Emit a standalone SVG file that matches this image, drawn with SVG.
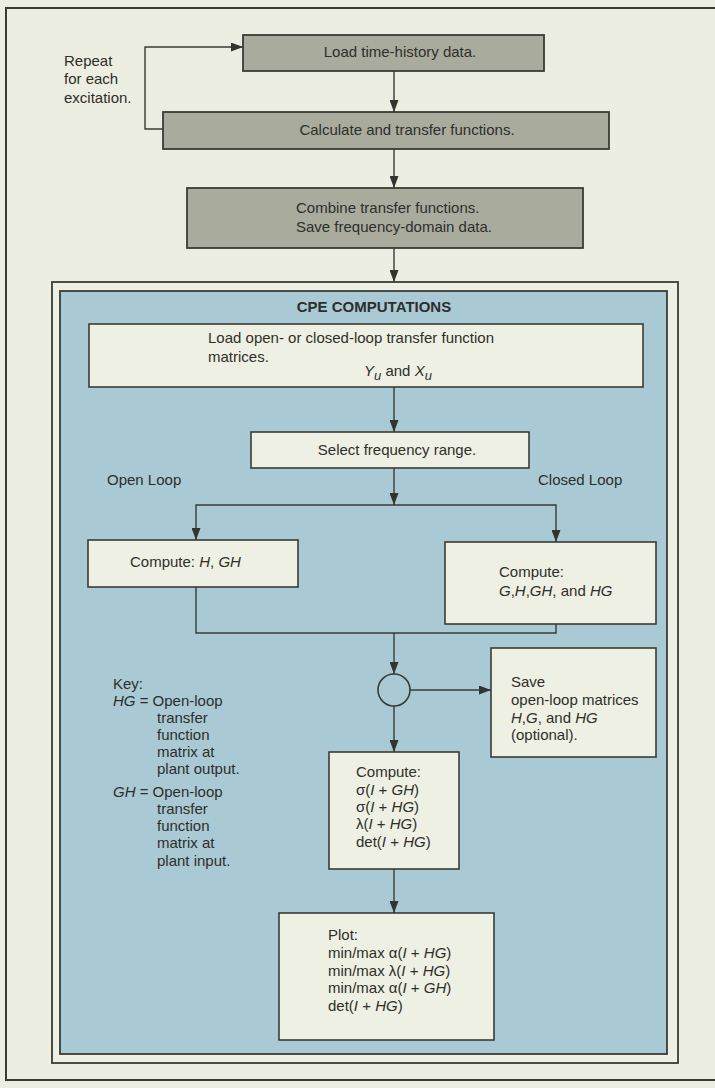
<svg xmlns="http://www.w3.org/2000/svg" width="715" height="1088" viewBox="0 0 715 1088">
<defs>
<style>
.t{font-family:"Liberation Sans",Arial,sans-serif;font-size:15px;fill:#2e2f2a}
.b{font-weight:bold}
.i{font-style:italic}
.box{fill:#eef0e3;stroke:#3a3b35;stroke-width:1.6}
.gbox{fill:#a9ab9d;stroke:#3a3b35;stroke-width:1.8}
.ln{fill:none;stroke:#3a3b35;stroke-width:1.4}
.frame{fill:none;stroke:#3a3b35;stroke-width:2}
</style>
<marker id="ah" markerUnits="userSpaceOnUse" markerWidth="12" markerHeight="9" refX="12" refY="4.5" orient="auto">
<path d="M0,0 L12,4.5 L0,9 Z" fill="#33342f"/>
</marker>
</defs>
<rect x="0" y="0" width="715" height="1088" fill="#eceee1"/>
<path class="frame" d="M715,8 H6 V1080 H715"/>

<g id="cpe-frame">
<rect x="52" y="282" width="626" height="781" fill="#eef0e3" stroke="#3a3b35" stroke-width="1.8"/>
<rect x="60" y="291" width="607" height="763" fill="#a9c9d5" stroke="#3a3b35" stroke-width="1.8"/>
<text class="t b" x="374" y="312" text-anchor="middle">CPE COMPUTATIONS</text>
</g>

<g id="repeat-label">
<text class="t" x="64" y="66">Repeat</text>
<text class="t" x="64" y="84">for each</text>
<text class="t" x="64" y="103">excitation.</text>
</g>

<g id="load-time">
<rect class="gbox" x="243" y="35" width="301" height="36"/>
<text class="t" x="400" y="57" text-anchor="middle">Load time-history data.</text>
</g>
<g id="calculate">
<rect class="gbox" x="163" y="112" width="446" height="37"/>
<text class="t" x="407" y="135" text-anchor="middle">Calculate and transfer functions.</text>
</g>
<g id="combine">
<rect class="gbox" x="187" y="188" width="396" height="60"/>
<text class="t" x="296" y="213">Combine transfer functions.</text>
<text class="t" x="296" y="232">Save frequency-domain data.</text>
</g>

<g id="load-matrices">
<rect class="box" x="89" y="324" width="554" height="63"/>
<text class="t" x="208" y="343">Load open- or closed-loop transfer function</text>
<text class="t" x="208" y="362">matrices.</text>
<text class="t" x="364" y="376"><tspan class="i">Y</tspan><tspan class="i" dy="4" font-size="13">u</tspan><tspan dy="-4"> and </tspan><tspan class="i">X</tspan><tspan class="i" dy="4" font-size="13">u</tspan></text>
</g>

<g id="select-range">
<rect class="box" x="251" y="432" width="278" height="36"/>
<text class="t" x="397" y="455" text-anchor="middle">Select frequency range.</text>
</g>

<g id="loop-labels">
<text class="t" x="107" y="485">Open Loop</text>
<text class="t" x="538" y="485">Closed Loop</text>
</g>

<g id="compute-open">
<rect class="box" x="88" y="540" width="210" height="47"/>
<text class="t" x="130" y="567">Compute: <tspan class="i">H</tspan>, <tspan class="i">GH</tspan></text>
</g>

<g id="compute-closed">
<rect class="box" x="445" y="542" width="211" height="82"/>
<text class="t" x="499" y="577">Compute:</text>
<text class="t" x="499" y="596"><tspan class="i">G</tspan>,<tspan class="i">H</tspan>,<tspan class="i">GH</tspan>, and <tspan class="i">HG</tspan></text>
</g>

<g id="junction">
<circle cx="394" cy="690" r="16" fill="none" stroke="#3a3b35" stroke-width="1.6"/>
</g>

<g id="save-matrices">
<rect class="box" x="491" y="648" width="165" height="109"/>
<text class="t" x="511" y="687">Save</text>
<text class="t" x="511" y="705">open-loop matrices</text>
<text class="t" x="511" y="723"><tspan class="i">H</tspan>,<tspan class="i">G</tspan>, and <tspan class="i">HG</tspan></text>
<text class="t" x="511" y="740">(optional).</text>
</g>

<g id="key">
<text class="t" x="113" y="689">Key:</text>
<text class="t" x="113" y="706"><tspan class="i">HG</tspan> = Open-loop</text>
<text class="t" x="157" y="723">transfer</text>
<text class="t" x="157" y="740">function</text>
<text class="t" x="157" y="757">matrix at</text>
<text class="t" x="157" y="774">plant output.</text>
<text class="t" x="113" y="797"><tspan class="i">GH</tspan> = Open-loop</text>
<text class="t" x="157" y="814">transfer</text>
<text class="t" x="157" y="831">function</text>
<text class="t" x="157" y="848">matrix at</text>
<text class="t" x="157" y="866">plant input.</text>
</g>

<g id="compute-sigma">
<rect class="box" x="329" y="752" width="130" height="117"/>
<text class="t" x="356" y="777">Compute:</text>
<text class="t" x="356" y="795">σ(<tspan class="i">I</tspan> + <tspan class="i">GH</tspan>)</text>
<text class="t" x="356" y="812">σ(<tspan class="i">I</tspan> + <tspan class="i">HG</tspan>)</text>
<text class="t" x="356" y="829">λ(<tspan class="i">I</tspan> + <tspan class="i">HG</tspan>)</text>
<text class="t" x="356" y="847">det(<tspan class="i">I</tspan> + <tspan class="i">HG</tspan>)</text>
</g>

<g id="plot">
<rect class="box" x="279" y="913" width="215" height="127"/>
<text class="t" x="328" y="940">Plot:</text>
<text class="t" x="328" y="958">min/max α(<tspan class="i">I</tspan> + <tspan class="i">HG</tspan>)</text>
<text class="t" x="328" y="976">min/max λ(<tspan class="i">I</tspan> + <tspan class="i">HG</tspan>)</text>
<text class="t" x="328" y="993">min/max α(<tspan class="i">I</tspan> + <tspan class="i">GH</tspan>)</text>
<text class="t" x="328" y="1011">det(<tspan class="i">I</tspan> + <tspan class="i">HG</tspan>)</text>
</g>

<g id="connectors">
<path class="ln" d="M163,129 H145 V47 H243" marker-end="url(#ah)"/>
<path class="ln" d="M394,71 V112" marker-end="url(#ah)"/>
<path class="ln" d="M394,149 V188" marker-end="url(#ah)"/>
<path class="ln" d="M394,248 V282" marker-end="url(#ah)"/>
<path class="ln" d="M394,387 V432" marker-end="url(#ah)"/>
<path class="ln" d="M394,468 V505" marker-end="url(#ah)"/>
<path class="ln" d="M394,505 H196 V540" marker-end="url(#ah)"/>
<path class="ln" d="M394,505 H556 V542" marker-end="url(#ah)"/>
<path class="ln" d="M196,587 V633 H556 V624"/>
<path class="ln" d="M394,633 V674" marker-end="url(#ah)"/>
<path class="ln" d="M410,690 H491" marker-end="url(#ah)"/>
<path class="ln" d="M394,706 V752" marker-end="url(#ah)"/>
<path class="ln" d="M394,869 V913" marker-end="url(#ah)"/>
</g>
</svg>
